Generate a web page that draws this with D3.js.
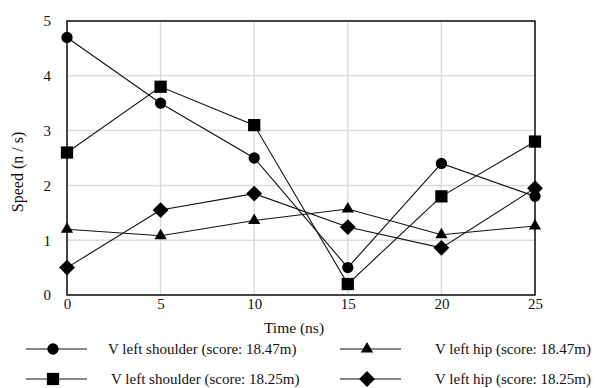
<!DOCTYPE html>
<html>
<head>
<meta charset="utf-8">
<script src="https://cdn.jsdelivr.net/npm/d3@7"></script>
<style>
  body { margin: 0; background: #fff; }
  text { font-family: "Liberation Serif", "Times New Roman", serif; fill: #111; }
</style>
</head>
<body>
<div id="chart"></div>
<script>
// data
var times = [0, 5, 10, 15, 20, 25];
var shoulder1847 = [4.7, 3.5, 2.5, 0.5, 2.4, 1.8];
var shoulder1825 = [2.6, 3.8, 3.1, 0.2, 1.8, 2.8];
var hip1847 = [1.2, 1.08, 1.36, 1.57, 1.1, 1.26];
var hip1825 = [0.5, 1.55, 1.85, 1.24, 0.86, 1.95];
var yTicks = [0, 1, 2, 3, 4, 5];
var xTicks = [0, 5, 10, 15, 20, 25];
var seriesNames = [
    "V left shoulder (score: 18.47m)",
    "V left hip (score: 18.47m)",
    "V left shoulder (score: 18.25m)",
    "V left hip (score: 18.25m)"
];

var width = 597, height = 388;
var plotLeft = 67, plotRight = 535, plotTop = 21, plotBottom = 295;

var svg = d3.select("#chart").append("svg")
    .attr("width", width)
    .attr("height", height);

var xScale = d3.scaleLinear().domain([0, 25]).range([plotLeft, plotRight]);
var yScale = d3.scaleLinear().domain([0, 5]).range([plotBottom, plotTop]);

// grid
svg.append("g").selectAll("line")
    .data(yTicks)
    .join("line")
    .attr("x1", plotLeft).attr("x2", plotRight)
    .attr("y1", d => yScale(d)).attr("y2", d => yScale(d))
    .style("stroke", "#dcdcdc").style("stroke-width", 1.5);

svg.append("g").selectAll("line")
    .data(xTicks)
    .join("line")
    .attr("x1", d => xScale(d)).attr("x2", d => xScale(d))
    .attr("y1", plotTop).attr("y2", plotBottom)
    .style("stroke", "#dcdcdc").style("stroke-width", 1.5);

// axes (labels only, no tick marks)
var xAxis = svg.append("g")
    .attr("transform", `translate(0, ${plotBottom})`)
    .call(d3.axisBottom(xScale).tickValues(xTicks).tickFormat(d3.format("d")).tickSize(0).tickPadding(3))
    .attr("font-family", null)
    .attr("font-size", 15);
xAxis.select(".domain").remove();

var yAxis = svg.append("g")
    .attr("transform", `translate(${plotLeft}, 0)`)
    .call(d3.axisLeft(yScale).tickValues(yTicks).tickFormat(d3.format("d")).tickSize(0).tickPadding(16))
    .attr("font-family", null)
    .attr("font-size", 15);
yAxis.select(".domain").remove();

// frame
svg.append("rect")
    .attr("x", plotLeft).attr("y", plotTop)
    .attr("width", plotRight - plotLeft).attr("height", plotBottom - plotTop)
    .style("fill", "none").style("stroke", "#111").style("stroke-width", 1.5);

// axis titles
svg.append("text")
    .attr("x", 294).attr("y", 333)
    .attr("text-anchor", "middle")
    .style("font-size", "15.5px")
    .text("Time (ns)");

svg.append("text")
    .attr("transform", "translate(23, 172) rotate(-90)")
    .attr("text-anchor", "middle")
    .style("font-size", "16px")
    .text("Speed (n / s)");

// series
var circleSym = d3.symbol().type(d3.symbolCircle).size(100);
var squareSym = d3.symbol().type(d3.symbolSquare).size(150);
var triSym = d3.symbol().type(d3.symbolTriangle).size(65);
var diamondSym = d3.symbol().type(d3.symbolSquare).size(125);

var series = [
    {name: seriesNames[0], values: shoulder1847, sym: circleSym, rot: 0},
    {name: seriesNames[2], values: shoulder1825, sym: squareSym, rot: 0},
    {name: seriesNames[1], values: hip1847, sym: triSym, rot: 0},
    {name: seriesNames[3], values: hip1825, sym: diamondSym, rot: 45}
];

var line = d3.line()
    .x((d, i) => xScale(times[i]))
    .y(d => yScale(d));

series.forEach(function (s) {
    svg.append("path")
        .attr("d", line(s.values))
        .style("fill", "none")
        .style("stroke", "#111")
        .style("stroke-width", 1.1);

    svg.append("g").selectAll("path")
        .data(s.values)
        .join("path")
        .attr("d", s.sym)
        .attr("transform", (d, i) => `translate(${xScale(times[i])}, ${yScale(d)}) rotate(${s.rot})`)
        .style("fill", "#000");
});

// legend
var legendItems = [
    {s: series[0], x: 26, y: 349, tx: 108},
    {s: series[2], x: 340, y: 349, tx: 435},
    {s: series[1], x: 26, y: 379, tx: 111},
    {s: series[3], x: 340, y: 379, tx: 435}
];

var lg = svg.append("g").selectAll("g")
    .data(legendItems)
    .join("g");

lg.append("line")
    .attr("x1", d => d.x).attr("x2", d => d.x + 61)
    .attr("y1", d => d.y).attr("y2", d => d.y)
    .style("stroke", "#111").style("stroke-width", 1.1);

lg.append("path")
    .attr("d", d => d.s.sym())
    .attr("transform", d => `translate(${d.x + 27}, ${d.y}) rotate(${d.s.rot})`)
    .style("fill", "#000");

lg.append("text")
    .attr("x", d => d.tx).attr("y", d => d.y)
    .attr("dy", "0.35em")
    .style("font-size", "15px")
    .text(d => d.s.name);
</script>
</body>
</html>
